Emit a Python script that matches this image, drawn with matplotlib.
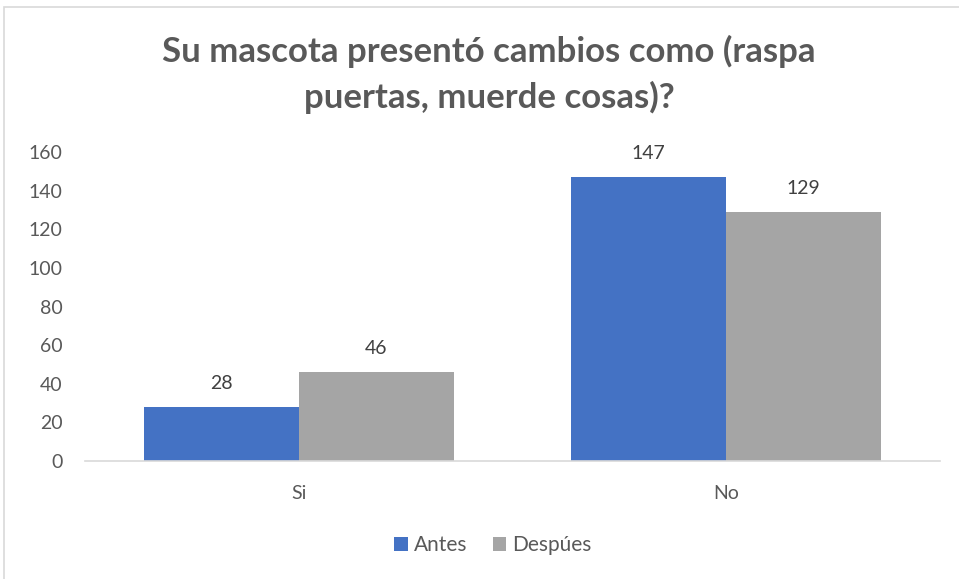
import matplotlib
matplotlib.use("Agg")
import matplotlib.pyplot as plt
import numpy as np
from matplotlib.patches import Rectangle

plt.rcParams['font.family'] = ['Lato', 'DejaVu Sans']

categories = ["Si", "No"]
series_names = ["Antes", "Despúes"]
antes = [28, 147]
despues = [46, 129]
colors = ["#4472C4", "#A5A5A5"]
title_lines = ["Su mascota presentó cambios como (raspa", "puertas, muerde cosas)?"]
yticks = [0, 20, 40, 60, 80, 100, 120, 140, 160]

W, H = 959, 579
fig = plt.figure(figsize=(W/100, H/100), dpi=100)
fig.patches.append(Rectangle((4/W, -0.01), 1.0, (H-7)/H + 0.01, transform=fig.transFigure,
                             fill=False, edgecolor="#D9D9D9", linewidth=1.2))
ax = fig.add_axes([85/W, 118/H, (940-85)/W, (461-152)/H])

x = np.arange(len(categories))
w = 0.3626
b1 = ax.bar(x - w/2, antes, w, color=colors[0], label=series_names[0])
b2 = ax.bar(x + w/2, despues, w, color=colors[1], label=series_names[1])
for bars, vals in ((b1, antes), (b2, despues)):
    for r, v in zip(bars, vals):
        ax.annotate(str(v), (r.get_x() + r.get_width()/2, v), xytext=(0, 11),
                    textcoords="offset points", ha="center", va="bottom",
                    fontsize=14, color="#404040")

ax.set_xlim(-0.5, 1.5)
ax.set_ylim(0, 160)
ax.set_yticks(yticks)
ax.set_xticks(x)
ax.set_xticklabels(categories)
ax.tick_params(axis='both', length=0, labelsize=14, labelcolor="#595959")
ax.tick_params(axis='y', pad=16)
ax.tick_params(axis='x', pad=17)
for s in ("top", "right", "left"):
    ax.spines[s].set_visible(False)
ax.spines["bottom"].set_color("#D9D9D9")
ax.spines["bottom"].set_linewidth(1.2)

for line, base in zip(title_lines, (62, 108)):
    fig.text(489/W, 1 - base/H, line, ha="center", va="baseline", fontsize=25,
             fontweight="bold", color="#595959")

fig.legend(handles=[b1, b2], labels=series_names, loc="center",
           bbox_to_anchor=(493/W, 1 - 545/H), ncol=2, frameon=False,
           fontsize=15, handlelength=0.65, handleheight=0.65, handletextpad=0.3,
           columnspacing=1.2, labelcolor="#595959")

fig.savefig("out.png", dpi=100)
